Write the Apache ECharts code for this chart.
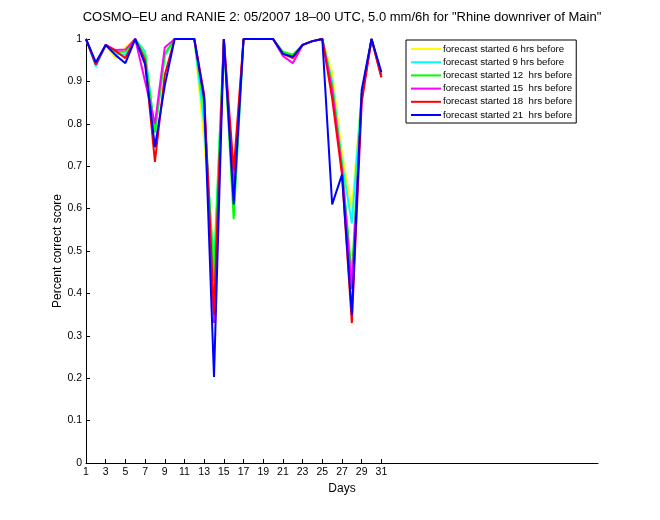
<!DOCTYPE html>
<html>
<head>
<meta charset="utf-8">
<script src="https://cdn.jsdelivr.net/npm/echarts@6/dist/echarts.min.js"></script>
<style>html,body{margin:0;padding:0;background:#fff;}#c{width:660px;height:520px;}</style>
</head>
<body>
<div id="c"></div>
<script>
const days = [1,2,3,4,5,6,7,8,9,10,11,12,13,14,15,16,17,18,19,20,21,22,23,24,25,26,27,28,29,30,31];
const xTicks = [1,3,5,7,9,11,13,15,17,19,21,23,25,27,29,31];
const seriesNames = [
  'forecast started 6 hrs before',
  'forecast started 9 hrs before',
  'forecast started 12  hrs before',
  'forecast started 15  hrs before',
  'forecast started 18  hrs before',
  'forecast started 21  hrs before'
];
const colors = ['#ffff00','#00ffff','#00ff00','#ff00ff','#ff0000','#0000ff'];
const f6  = [1,0.94,0.986,0.955,0.98,1,0.97,0.78,0.96,1,1,1,0.76,0.48,0.99,0.63,1,1,1,1,0.965,0.958,0.986,0.995,1,0.92,0.73,0.60,0.87,1,0.915];
const f9  = [1,0.935,0.986,0.965,0.962,1,0.97,0.78,0.96,1,1,1,0.80,0.46,1,0.63,1,1,1,1,0.965,0.958,0.986,0.995,1,0.90,0.71,0.565,0.87,1,0.915];
const f12 = [1,0.94,0.986,0.97,0.97,1,0.96,0.78,0.965,1,1,1,0.84,0.43,1,0.575,1,1,1,1,0.97,0.963,0.986,0.995,1,0.89,0.70,0.44,0.87,1,0.915];
const f15 = [1,0.94,0.986,0.974,0.975,1,0.90,0.80,0.98,1,1,1,0.86,0.33,1,0.65,1,1,1,1,0.96,0.943,0.986,0.995,1,0.88,0.69,0.41,0.86,1,0.91];
const f18 = [1,0.94,0.986,0.972,0.955,1,0.95,0.71,0.915,1,1,1,0.87,0.35,1,0.69,1,1,1,1,0.965,0.955,0.986,0.995,1,0.86,0.68,0.33,0.85,1,0.91];
const f21 = [1,0.945,0.986,0.962,0.943,1,0.94,0.745,0.89,1,1,1,0.86,0.203,1,0.61,1,1,1,1,0.965,0.958,0.986,0.995,1,0.61,0.68,0.35,0.88,1,0.922];
const allValues = [f6,f9,f12,f15,f18,f21];

const FONT = 'Liberation Sans';
const chart = echarts.init(document.getElementById('c'), null, {renderer:'canvas'});
const series = allValues.map((vals,i)=>({
  name: seriesNames[i],
  type: 'line',
  data: days.map((d,j)=>[d, vals[j]]),
  symbol: 'none',
  showSymbol: false,
  lineStyle: {color: colors[i], width: 2},
  itemStyle: {color: colors[i]},
  z: 2 + i,
  animation: false
}));

chart.setOption({
  animation: false,
  backgroundColor: '#fff',
  textStyle: {fontFamily: FONT},
  grid: {left: 86, right: 62, top: 39, bottom: 57, containLabel: false},
  graphic: [{
    type: 'text', x: 342, y: 11,
    style: {text: 'COSMO\u2013EU and RANIE 2: 05/2007 18\u201300 UTC, 5.0 mm/6h for "Rhine downriver of Main"',
            font: '13px "Liberation Sans"', fill: '#000', align: 'center', textAlign: 'center', verticalAlign: 'top'}
  }],
  legend: {
    orient: 'vertical',
    left: 406, top: 40,
    width: 170,
    padding: [4, 4, 3, 5],
    itemWidth: 30, itemHeight: 8, itemGap: 3.2,
    borderColor: '#000', borderWidth: 1, backgroundColor: '#fff',
    textStyle: {fontFamily: FONT, fontSize: 9.7, color: '#000', padding: [0,0,0,-3]},
    data: seriesNames,
    icon: 'path://M0,4 L30,4 L30,6 L0,6 Z'
  },
  xAxis: {
    type: 'value', min: 1, max: 53,
    name: 'Days', nameLocation: 'middle', nameGap: 18,
    nameTextStyle: {fontFamily: FONT, fontSize: 12, color: '#000'},
    axisLine: {show: true, onZero: false, lineStyle: {color: '#000', width: 1}},
    axisTick: {show: true, inside: true, length: 4, customValues: xTicks, lineStyle: {color: '#000'}},
    axisLabel: {show: true, customValues: xTicks, fontFamily: FONT, fontSize: 10.5, color: '#000', margin: 4},
    splitLine: {show: false}
  },
  yAxis: {
    type: 'value', min: 0, max: 1, interval: 0.1,
    name: 'Percent correct score', nameLocation: 'middle', nameGap: 22, nameMoveOverlap: false,
    nameTextStyle: {fontFamily: FONT, fontSize: 12, color: '#000'},
    axisLine: {show: true, lineStyle: {color: '#000', width: 1}},
    axisTick: {show: true, inside: true, length: 4, lineStyle: {color: '#000'}},
    axisLabel: {fontFamily: FONT, fontSize: 10.5, color: '#000', margin: 4,
      formatter: v => { const r = Math.round(v*10)/10; return r === 0 ? '0' : (r === 1 ? '1' : r.toFixed(1)); }},
    splitLine: {show: false}
  },
  series: series
});
</script>
</body>
</html>
